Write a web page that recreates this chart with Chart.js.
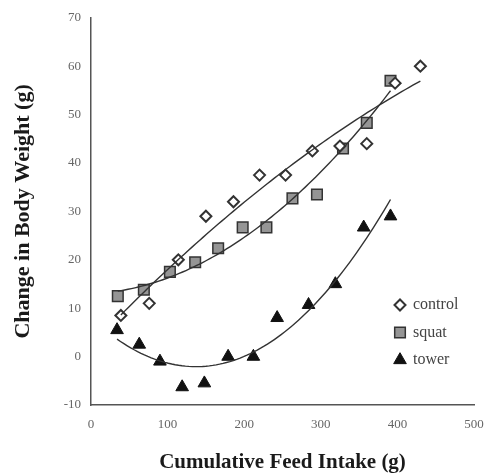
<!DOCTYPE html>
<html>
<head>
<meta charset="utf-8">
<script src="https://cdn.jsdelivr.net/npm/chart.js@4/dist/chart.umd.min.js"></script>
<style>
  html, body { margin: 0; padding: 0; background: #fff; }
</style>
</head>
<body>
<canvas id="weightChart" width="486" height="475"></canvas>
<script>
// feed intake (g) vs body weight change (g) per housing group
const controlIntake = [39, 76, 114, 150, 186, 220, 254, 289, 325, 360, 397, 430];
const controlGain   = [8.5, 11, 20, 29, 32, 37.5, 37.5, 42.5, 43.5, 44, 56.5, 60];

const squatIntake = [35, 69, 103, 136, 166, 198, 229, 263, 295, 329, 360, 391];
const squatGain   = [12.5, 13.8, 17.5, 19.5, 22.4, 26.7, 26.7, 32.7, 33.5, 43, 48.3, 57];

const towerIntake = [34, 63, 90, 119, 148, 179, 212, 243, 284, 319, 356, 391];
const towerGain   = [5.5, 2.5, -1, -6.3, -5.5, 0, 0, 8, 10.7, 15, 26.7, 29];

const xTicks = [0, 100, 200, 300, 400, 500];
const yTicks = [-10, 0, 10, 20, 30, 40, 50, 60, 70];

const serif = '"Liberation Serif", "Times New Roman", serif';

function toPoints(xs, ys) {
  return xs.map((x, i) => ({ x: x, y: ys[i] }));
}

// least squares 2nd order polynomial, like a spreadsheet trendline
function quadFit(xs, ys) {
  const s = [0, 0, 0, 0, 0];
  const t = [0, 0, 0];
  xs.forEach((x, i) => {
    for (let k = 0; k < 5; k++) s[k] += Math.pow(x, k);
    for (let k = 0; k < 3; k++) t[k] += ys[i] * Math.pow(x, k);
  });
  const m = [
    [s[0], s[1], s[2], t[0]],
    [s[1], s[2], s[3], t[1]],
    [s[2], s[3], s[4], t[2]]
  ];
  for (let c = 0; c < 3; c++) {
    for (let r = c + 1; r < 3; r++) {
      const f = m[r][c] / m[c][c];
      for (let k = c; k < 4; k++) m[r][k] -= f * m[c][k];
    }
  }
  const coef = [0, 0, 0];
  for (let r = 2; r >= 0; r--) {
    let v = m[r][3];
    for (let k = r + 1; k < 3; k++) v -= m[r][k] * coef[k];
    coef[r] = v / m[r][r];
  }
  return coef;
}

function trendPoints(xs, ys) {
  const [a, b, c] = quadFit(xs, ys);
  const lo = Math.min(...xs), hi = Math.max(...xs);
  const pts = [];
  for (let i = 0; i <= 80; i++) {
    const x = lo + (hi - lo) * i / 80;
    pts.push({ x: x, y: a + b * x + c * x * x });
  }
  return pts;
}

function trendSet(xs, ys) {
  return {
    type: 'line',
    data: trendPoints(xs, ys),
    borderColor: '#333',
    borderWidth: 1.4,
    pointRadius: 0,
    tension: 0,
    fill: false,
    order: 0,
    isTrend: true
  };
}

// legend sits inside the plot, lower right
const legendBox = { x: 400, y: 305, gap: 27.5 };

const insideLegend = {
  id: 'insideLegend',
  afterDraw(chart) {
    const ctx = chart.ctx;
    const sets = chart.data.datasets.filter(d => !d.isTrend);
    ctx.save();
    sets.forEach((ds, i) => {
      const y = legendBox.y + i * legendBox.gap;
      ctx.fillStyle = ds.backgroundColor;
      ctx.strokeStyle = ds.borderColor;
      ctx.lineWidth = ds.borderWidth;
      Chart.helpers.drawPoint(ctx, {
        pointStyle: ds.pointStyle,
        radius: ds.pointRadius,
        borderWidth: ds.borderWidth,
        rotation: 0
      }, legendBox.x, y);
      ctx.fillStyle = '#444';
      ctx.font = '16px ' + serif;
      ctx.textBaseline = 'middle';
      ctx.textAlign = 'left';
      ctx.fillText(ds.label, legendBox.x + 13, y);
    });
    ctx.restore();
  }
};

new Chart(document.getElementById('weightChart'), {
  type: 'scatter',
  data: {
    datasets: [
      {
        label: 'control',
        data: toPoints(controlIntake, controlGain),
        pointStyle: 'rectRot',
        pointRadius: 5.5,
        backgroundColor: '#fff',
        borderColor: '#333',
        borderWidth: 2,
        order: 1
      },
      {
        label: 'squat',
        data: toPoints(squatIntake, squatGain),
        pointStyle: 'rect',
        pointRadius: 7.5,
        backgroundColor: '#959595',
        borderColor: '#333',
        borderWidth: 1.5,
        order: 1
      },
      {
        label: 'tower',
        data: toPoints(towerIntake, towerGain),
        pointStyle: 'triangle',
        pointRadius: 7.3,
        backgroundColor: '#111',
        borderColor: '#111',
        borderWidth: 1,
        order: 1
      },
      trendSet(controlIntake, controlGain),
      trendSet(squatIntake, squatGain),
      trendSet(towerIntake, towerGain)
    ]
  },
  options: {
    responsive: false,
    animation: false,
    layout: { padding: { top: 16, right: 12, bottom: 0, left: 0 } },
    plugins: {
      legend: { display: false },
      tooltip: { enabled: false }
    },
    scales: {
      x: {
        type: 'linear',
        min: 0,
        max: 500,
        afterFit(scale) {
          scale.height = 70;
          // keep the tick padding from widening the side margins
          scale.paddingLeft = 0;
          scale.paddingRight = 10;
        },
        afterBuildTicks(scale) { scale.ticks = xTicks.map(v => ({ value: v })); },
        grid: { display: false, drawTicks: false },
        border: { display: true, color: '#555', width: 1.5 },
        ticks: {
          padding: 12,
          color: '#666',
          font: { family: serif, size: 13 }
        },
        title: {
          display: true,
          text: 'Cumulative Feed Intake (g)',
          color: '#1a1a1a',
          padding: { top: 0, bottom: 0 },
          font: { family: serif, size: 21, weight: 'bold' }
        }
      },
      y: {
        type: 'linear',
        min: -10,
        max: 70,
        afterFit(scale) { scale.width = 91; },
        afterBuildTicks(scale) { scale.ticks = yTicks.map(v => ({ value: v })); },
        grid: { display: false, drawTicks: false },
        border: { display: true, color: '#555', width: 1.5 },
        ticks: {
          padding: 10,
          color: '#666',
          font: { family: serif, size: 13 }
        },
        title: {
          display: true,
          text: 'Change in Body Weight (g)',
          color: '#1a1a1a',
          padding: { top: 10, bottom: 0 },
          font: { family: serif, size: 22, weight: 'bold' }
        }
      }
    }
  },
  plugins: [insideLegend]
});
</script>
</body>
</html>
